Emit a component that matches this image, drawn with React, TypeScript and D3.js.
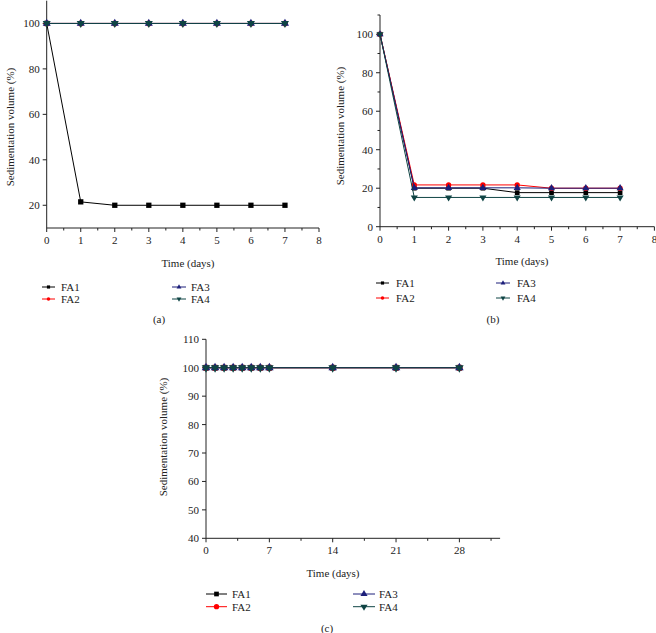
import React from "react";
import * as d3 from "d3";

const seriesNames = ["FA1", "FA2", "FA3", "FA4"];
const seriesColors = ["#000000", "#ff0000", "#1c1f7a", "#0f4444"];
const seriesSymbols = [d3.symbolSquare, d3.symbolCircle, d3.symbolTriangle, d3.symbolTriangle];

const daysAB = [0, 1, 2, 3, 4, 5, 6, 7];
const aFA1 = [100, 21.5, 20, 20, 20, 20, 20, 20];
const aFA2 = [100, 100, 100, 100, 100, 100, 100, 100];
const aFA3 = [100, 100, 100, 100, 100, 100, 100, 100];
const aFA4 = [100, 100, 100, 100, 100, 100, 100, 100];

const bFA1 = [100, 20, 20, 20, 17.7, 17.7, 17.7, 17.7];
const bFA2 = [100, 21.7, 21.7, 21.7, 21.7, 20, 20, 20];
const bFA3 = [100, 20.2, 20.2, 20.2, 20.2, 20, 20, 20];
const bFA4 = [100, 15.2, 15.2, 15.2, 15.2, 15.2, 15.2, 15.2];

const daysC = [0, 1, 2, 3, 4, 5, 6, 7, 14, 21, 28];
const cFA1 = [100, 100, 100, 100, 100, 100, 100, 100, 100, 100, 100];
const cFA2 = [100, 100, 100, 100, 100, 100, 100, 100, 100, 100, 100];
const cFA3 = [100, 100, 100, 100, 100, 100, 100, 100, 100, 100, 100];
const cFA4 = [100, 100, 100, 100, 100, 100, 100, 100, 100, 100, 100];

const xTicksAB = [0, 1, 2, 3, 4, 5, 6, 7, 8];
const xTicksC = [0, 7, 14, 21, 28];
const yTicksA = [20, 40, 60, 80, 100];
const yTicksB = [0, 20, 40, 60, 80, 100];
const yTicksC = [40, 50, 60, 70, 80, 90, 100, 110];

const FONT = "'Liberation Serif', 'Times New Roman', serif";

type PanelProps = {
  xDomain: [number, number];
  xRange: [number, number];
  yDomain: [number, number];
  yRange: [number, number];
  xTicks: number[];
  xMinor: number[];
  yTicks: number[];
  yMinor: number[];
  days: number[];
  series: number[][];
  markerSize: number;
  xTitle: [number, number];
  yTitle: [number, number];
  legendCols: [number, number, number][]; // lineStart, lineEnd, textX
  legendRows: number[];
  legendMarker: number;
  caption: string;
  captionPos: [number, number];
};

function symbolPath(i: number, size: number) {
  return d3.symbol().type(seriesSymbols[i]).size(size)() as string;
}

function Panel(p: PanelProps) {
  const x = d3.scaleLinear().domain(p.xDomain).range(p.xRange);
  const y = d3.scaleLinear().domain(p.yDomain).range(p.yRange);
  const x0 = p.xRange[0];
  const y0 = p.yRange[0];
  const line = d3
    .line<number>()
    .x((_, i) => x(p.days[i]))
    .y((d) => y(d));
  return (
    <g>
      {/* axes */}
      <line x1={x0} x2={x0} y1={y0} y2={p.yRange[1]} stroke="#222" strokeWidth={1} />
      <line x1={x0} x2={p.xRange[1]} y1={y0} y2={y0} stroke="#222" strokeWidth={1} />
      {p.xTicks.map((t) => (
        <g key={"xt" + t}>
          <line x1={x(t)} x2={x(t)} y1={y0} y2={y0 + 4} stroke="#222" />
          <text x={x(t)} y={y0 + 16} textAnchor="middle" fontSize={11} fontFamily={FONT} fill="#222">
            {t}
          </text>
        </g>
      ))}
      {p.xMinor.map((t) => (
        <line key={"xm" + t} x1={x(t)} x2={x(t)} y1={y0} y2={y0 + 2.5} stroke="#222" />
      ))}
      {p.yTicks.map((t) => (
        <g key={"yt" + t}>
          <line x1={x0 - 4} x2={x0} y1={y(t)} y2={y(t)} stroke="#222" />
          <text x={x0 - 7} y={y(t) + 4} textAnchor="end" fontSize={11} fontFamily={FONT} fill="#222">
            {t}
          </text>
        </g>
      ))}
      {p.yMinor.map((t) => (
        <line key={"ym" + t} x1={x0 - 2.5} x2={x0} y1={y(t)} y2={y(t)} stroke="#222" />
      ))}
      <text x={p.xTitle[0]} y={p.xTitle[1] + 4} textAnchor="middle" fontSize={11} fontFamily={FONT} fill="#222">
        Time (days)
      </text>
      <text
        transform={`translate(${p.yTitle[0] + 4},${p.yTitle[1]}) rotate(-90)`}
        textAnchor="middle"
        fontSize={11}
        fontFamily={FONT}
        fill="#222"
      >
        Sedimentation volume (%)
      </text>
      {/* series */}
      {p.series.map((s, i) => (
        <g key={"s" + i}>
          <path d={line(s) as string} fill="none" stroke={seriesColors[i]} strokeWidth={1} />
          {s.map((v, j) => (
            <path
              key={j}
              d={symbolPath(i, p.markerSize)}
              transform={`translate(${x(p.days[j])},${y(v)})${i === 3 ? " rotate(180)" : ""}`}
              fill={seriesColors[i]}
            />
          ))}
        </g>
      ))}
      {/* legend */}
      {seriesNames.map((n, i) => {
        const col = p.legendCols[Math.floor(i / 2)];
        const ry = p.legendRows[i % 2];
        const mx = (col[0] + col[1]) / 2;
        return (
          <g key={"l" + i}>
            <line x1={col[0]} x2={col[1]} y1={ry} y2={ry} stroke={seriesColors[i]} strokeWidth={1} />
            <path
              d={symbolPath(i, p.legendMarker)}
              transform={`translate(${mx},${ry})${i === 3 ? " rotate(180)" : ""}`}
              fill={seriesColors[i]}
            />
            <text x={col[2]} y={ry + 4} fontSize={11} fontFamily={FONT} fill="#222">
              {n}
            </text>
          </g>
        );
      })}
      <text x={p.captionPos[0]} y={p.captionPos[1] + 4} textAnchor="middle" fontSize={11} fontFamily={FONT} fill="#222">
        {p.caption}
      </text>
    </g>
  );
}

export default function App() {
  const halfAB = d3.range(0.5, 8, 1);
  const minorC = [3.5, 10.5, 17.5, 24.5, 31.5];
  return (
    <svg width={656} height={633} style={{ position: "absolute", left: 0, top: 0, background: "#fff" }}>
      <rect width={656} height={633} fill="#fff" />
      <Panel
        xDomain={[0, 8]}
        xRange={[46.7, 319]}
        yDomain={[10, 110]}
        yRange={[228, 0.7]}
        xTicks={xTicksAB}
        xMinor={halfAB}
        yTicks={yTicksA}
        yMinor={[]}
        days={daysAB}
        series={[aFA1, aFA2, aFA3, aFA4]}
        markerSize={28}
        xTitle={[188, 263]}
        yTitle={[10, 127]}
        legendCols={[
          [42, 55, 61],
          [172, 186, 191],
        ]}
        legendRows={[287, 299]}
        legendMarker={10}
        caption="(a)"
        captionPos={[159, 319]}
      />
      <Panel
        xDomain={[0, 8]}
        xRange={[380, 654.4]}
        yDomain={[0, 110]}
        yRange={[226.7, 15]}
        xTicks={xTicksAB}
        xMinor={halfAB}
        yTicks={yTicksB}
        yMinor={[10, 30, 50, 70, 90, 110]}
        days={daysAB}
        series={[bFA1, bFA2, bFA3, bFA4]}
        markerSize={22}
        xTitle={[522, 261]}
        yTitle={[340, 126]}
        legendCols={[
          [376, 389, 396],
          [496, 510, 517],
        ]}
        legendRows={[283, 298]}
        legendMarker={10}
        caption="(b)"
        captionPos={[493, 319]}
      />
      <Panel
        xDomain={[0, 32.5]}
        xRange={[206, 500.1]}
        yDomain={[40, 110]}
        yRange={[538.3, 339.3]}
        xTicks={xTicksC}
        xMinor={minorC}
        yTicks={yTicksC}
        yMinor={[]}
        days={daysC}
        series={[cFA1, cFA2, cFA3, cFA4]}
        markerSize={32}
        xTitle={[333, 572.7]}
        yTitle={[163, 437]}
        legendCols={[
          [206, 227, 232],
          [353, 375, 379],
        ]}
        legendRows={[594, 606.7]}
        legendMarker={22}
        caption="(c)"
        captionPos={[327, 628]}
      />
    </svg>
  );
}
